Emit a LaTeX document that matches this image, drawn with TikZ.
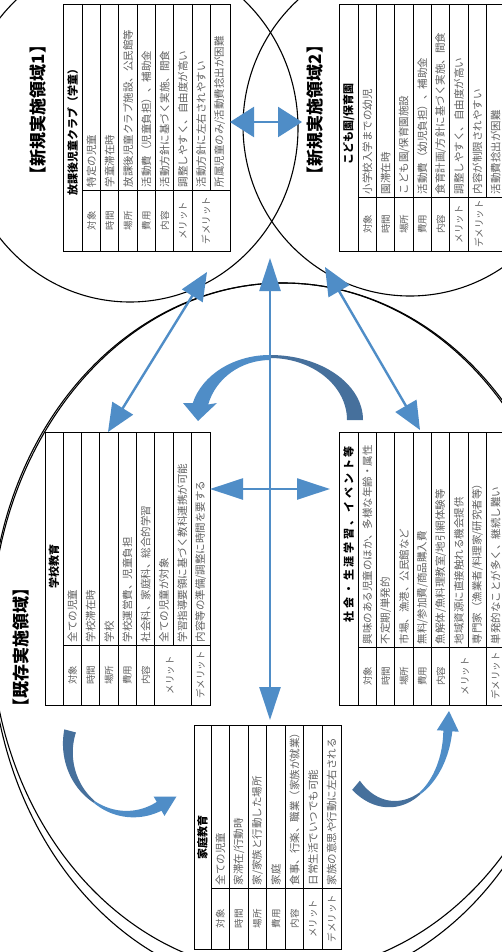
\documentclass[tikz,border=0pt]{standalone}
\usepackage{fontspec}
\setmainfont{Noto Sans CJK JP}
\usetikzlibrary{arrows.meta}
\definecolor{flowblue}{RGB}{79,141,199}
\definecolor{shadeblue}{RGB}{70,112,156}
\definecolor{cellgray}{RGB}{95,95,95}
\begin{document}
\begin{tikzpicture}[x=1pt,y=-1pt,
  ring/.style={draw=black,line width=1.1pt},
  gridline/.style={draw=black,line width=0.9pt},
  headcell/.style={rotate=90,inner sep=0pt,font=\bfseries\fontsize{11}{11}\selectfont},
  keycell/.style={rotate=90,inner sep=0pt,text=cellgray,font=\fontsize{9.5}{9.5}\selectfont},
  textcell/.style={rotate=90,anchor=west,inner sep=0pt,text=cellgray,font=\fontsize{10.5}{10.5}\selectfont},
  areatitle/.style={rotate=90,inner sep=0pt,font=\bfseries\fontsize{17}{17}\selectfont},
  link/.style={draw=flowblue,line width=2.4pt,{Triangle[length=28pt,width=24pt]}-{Triangle[length=28pt,width=24pt]}},
  linkwide/.style={draw=flowblue,line width=2.4pt,{Triangle[length=24pt,width=30pt]}-{Triangle[length=24pt,width=30pt]}},
  linklong/.style={draw=flowblue,line width=2.4pt,{Triangle[length=33pt,width=21pt]}-{Triangle[length=33pt,width=21pt]}},
]
\useasboundingbox (0,0) rectangle (502,952);
\clip (0,0) rectangle (502,952);
\fill[white] (0,0) rectangle (502,952);

% area outlines
\draw[ring] (130,128) ellipse [x radius=168, y radius=174];
\draw[ring] (410,126) ellipse [x radius=167, y radius=170];
\draw[ring] (283,628) ellipse [x radius=292, y radius=345];
\draw[ring] (283,636) ellipse [x radius=292, y radius=353];

% ---------- table: after-school club
\draw[gridline,fill=white] (63,4) rectangle (230,251);
\foreach \xx in {82.3,100.6,118.9,137.2,155.5,173.8,192.1} \draw[gridline] (\xx,4) -- (\xx,251);
\draw[gridline] (210.4,4) -- (210.4,190);
\draw[gridline] (82.3,190) -- (230,190);
\node[headcell] (t1head) at (72.6,130) {放課後児童クラブ（学童）};
\foreach \k/\cell in {0/対象,1/時間,2/場所,3/費用,4/内容,5/メリット}
  \node[keycell] (t1key\k) at ({91.45+\k*18.3},220.5) {\cell};
\node[keycell] (t1key6) at (206,220.5) {デメリット};
\foreach \cell [count=\k from 0] in {特定の児童,学童滞在時,放課後児童クラブ施設、公民館等,活動費（児童負担）、補助金,活動方針に基づく実施、間食,調整しやすく、自由度が高い,活動方針に左右されやすい,所属児童のみ/活動費捻出が困難}
  \node[textcell] (t1txt\k) at ({91.45+\k*18.3},187.5) {\cell};

% ---------- table: nursery
\draw[gridline,fill=white] (339,4) rectangle (520,251);
\foreach \xx in {358.3,376.6,394.9,413.2,431.5,449.8,468.1} \draw[gridline] (\xx,4) -- (\xx,251);
\draw[gridline] (486.4,4) -- (486.4,197);
\draw[gridline] (358.3,197) -- (520,197);
\node[headcell] (t2head) at (348.6,124) {こども園/保育園};
\foreach \k/\cell in {0/対象,1/時間,2/場所,3/費用,4/内容,5/メリット}
  \node[keycell] (t2key\k) at ({367.45+\k*18.3},224) {\cell};
\node[keycell] (t2key6) at (479,224) {デメリット};
\foreach \cell [count=\k from 0] in {小学校入学までの幼児,園滞在時,こども園/保育園施設,活動費（幼児負担）、補助金,食育計画/方針に基づく実施、間食,調整しやすく、自由度が高い,内容が制限されやすい,活動費捻出が困難}
  \node[textcell] (t2txt\k) at ({367.45+\k*18.3},194.5) {\cell};

% ---------- table: school
\draw[gridline,fill=white] (45,432) rectangle (210.5,705);
\foreach \xx in {63.3,81.6,99.9,118.2,136.5,154.8,191.4} \draw[gridline] (\xx,432) -- (\xx,705);
\draw[gridline] (173.1,432) -- (173.1,645);
\draw[gridline] (63.3,645) -- (210.5,645);
\node[headcell] (t3head) at (54,566) {学校教育};
\foreach \k/\cell in {0/対象,1/時間,2/場所,3/費用,4/内容}
  \node[keycell] (t3key\k) at ({72.45+\k*18.3},675) {\cell};
\node[keycell] (t3key5) at (170,675) {メリット};
\node[keycell] (t3key6) at (200.5,675) {デメリット};
\foreach \cell [count=\k from 0] in {全ての児童,学校滞在時,学校,学校運営費、児童負担,社会科、家庭科、総合的学習,全ての児童が対象,学習指導要領に基づく教科連携が可能,内容等の準備/調整に時間を要する}
  \node[textcell] (t3txt\k) at ({72.45+\k*18.3},642.5) {\cell};

% ---------- table: community learning
\draw[gridline,fill=white] (339,432) rectangle (520,705);
\foreach \xx in {358.3,376.6,394.9,413.2,431.5,449.8,486.4} \draw[gridline] (\xx,432) -- (\xx,705);
\draw[gridline] (468.1,432) -- (468.1,647);
\draw[gridline] (358.3,647) -- (520,647);
\node[headcell] (t4head) at (348.6,534) {\addfontfeature{LetterSpace=25}社会・生涯学習、イベント等};
\foreach \k/\cell in {0/対象,1/時間,2/場所,3/費用,4/内容}
  \node[keycell] (t4key\k) at ({367.45+\k*18.3},676) {\cell};
\node[keycell] (t4key5) at (465,676) {メリット};
\node[keycell] (t4key6) at (495.5,676) {デメリット};
\foreach \cell [count=\k from 0] in {興味のある児童のほか、多様な年齢・属性,不定期/単発的,市場、漁港、公民館など,無料/参加費/商品購入費,魚解体/魚料理教室/地引網体験等,地域資源に直接触れる機会提供,専門家（漁業者/料理家/研究者等）,単発的なことが多く、継続し難い}
  \node[textcell] (t4txt\k) at ({367.45+\k*18.3},644.5) {\cell};

% ---------- table: home
\draw[gridline,fill=white] (194,725) rectangle (341,949);
\foreach \k in {0,...,6} \draw[gridline] ({211+\k*18.57},725) -- ({211+\k*18.57},949);
\draw[gridline] (211,888) -- (341,888);
\node[headcell] (t5head) at (202.5,837) {家庭教育};
\foreach \k/\cell in {0/対象,1/時間,2/場所,3/費用,4/内容,5/メリット,6/デメリット}
  \node[keycell] (t5key\k) at ({220.3+\k*18.57},918.5) {\cell};
\foreach \cell [count=\k from 0] in {全ての児童,家滞在/行動時,家/家族と行動した場所,家庭,食事、行楽、職業（家族が就業）,日常生活でいつでも可能,家族の意思や行動に左右される}
  \node[textcell] (t5txt\k) at ({220.3+\k*18.57},885.5) {\cell};

% ---------- curved block arrows
% upper: from the right, over the top, down to the left
\fill[shadeblue] (363,420) arc[start angle=0,end angle=-90,x radius=93,y radius=65]
  -- (270,358) arc[start angle=-90,end angle=0,x radius=77,y radius=62] -- cycle;
\fill[flowblue] (270,355) arc[start angle=-90,end angle=-165,x radius=80,y radius=65]
  -- (183,403) -- (198,421) -- (217,403) -- (208.2,404.5)
  arc[start angle=-165,end angle=-90,x radius=64,y radius=60] -- cycle;

% lower left
\fill[shadeblue] plot[domain=195:125,samples=30]
  ({130+(62+(2+(\x-125)/7)/2)*cos(\x)},{748+(66+(2+(\x-125)/7)/2)*sin(\x)})
  -- plot[domain=125:195,samples=30]
  ({130+(62-(2+(\x-125)/7)/2)*cos(\x)},{748+(66-(2+(\x-125)/7)/2)*sin(\x)}) -- cycle;
\fill[flowblue] plot[domain=125:62,samples=30]
  ({130+(62+(2+(125-\x)/7.875)/2)*cos(\x)},{748+(66+(2+(125-\x)/7.875)/2)*sin(\x)})
  -- (164.5,815.9) -- (176.5,796.5) -- (153.7,796.7)
  -- plot[domain=62:125,samples=30]
  ({130+(62-(2+(125-\x)/7.875)/2)*cos(\x)},{748+(66-(2+(125-\x)/7.875)/2)*sin(\x)}) -- cycle;

% lower right
\fill[shadeblue] plot[domain=130:60,samples=30]
  ({392+(56+(2+(\x-60)/7)/2)*cos(\x)},{724+(80+(2+(\x-60)/7)/2)*sin(\x)})
  -- plot[domain=60:130,samples=30]
  ({392+(56-(2+(\x-60)/7)/2)*cos(\x)},{724+(80-(2+(\x-60)/7)/2)*sin(\x)}) -- cycle;
\fill[flowblue] plot[domain=60:5,samples=30]
  ({392+(56+(2+(60-\x)/7.86)/2)*cos(\x)},{724+(80+(2+(60-\x)/7.86)/2)*sin(\x)})
  -- (458.8,731.7) -- (449,711) -- (436.8,730.3)
  -- plot[domain=5:60,samples=30]
  ({392+(56-(2+(60-\x)/7.86)/2)*cos(\x)},{724+(80-(2+(60-\x)/7.86)/2)*sin(\x)}) -- cycle;

% ---------- straight links
\coordinate (topL) at (230,122);
\coordinate (topR) at (302,122);
\coordinate (upC) at (270,258);
\coordinate (downC) at (270,720);
\coordinate (midL) at (210,489);
\coordinate (midR) at (330,489);
\coordinate (diagLtop) at (207,272);
\coordinate (diagLbot) at (108,432);
\coordinate (diagRtop) at (325,267);
\coordinate (diagRbot) at (420,430);
\draw[linkwide] (topL) -- (topR);
\draw[linklong] (upC) -- (downC);
\draw[linklong] (midL) -- (midR);
\draw[link] (diagLtop) -- (diagLbot);
\draw[link] (diagRtop) -- (diagRbot);

% ---------- area titles
\node[areatitle] (area1) at (38,110) {【新規実施領域1】};
\node[areatitle] (area2) at (315,110) {【新規実施領域2】};
\node[areatitle] (area0) at (21,647) {【既存実施領域】};
\end{tikzpicture}
\end{document}
